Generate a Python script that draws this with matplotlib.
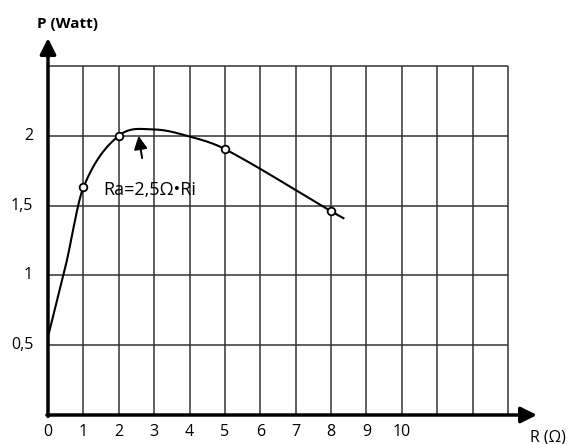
import numpy as np
import matplotlib.pyplot as plt

plt.rcParams['font.family'] = ['Open Sans', 'DejaVu Sans']

# measured points (R in ohm, P in watt)
r_meas = [1, 2, 5, 8]
p_meas = [1.63, 2.0, 1.905, 1.46]

# points
r_curve = [0, 0.5, 1, 2, 3, 4, 5, 8, 8.35]
p_curve = [0.56, 1.07, 1.63, 2.0, 2.045, 1.995, 1.905, 1.46, 1.41]

x_ticks = list(range(0, 11))
y_ticks = [0.5, 1, 1.5, 2]
y_tick_labels = ['0,5', '1', '1,5', '2']

x_grid = list(range(1, 14))
y_grid = [0.5, 1, 1.5, 2, 2.5]


def hermite_curve(xs, ys, n=40):
    # cubic hermite through the points, tangents from neighbouring points
    xs = np.asarray(xs, float)
    ys = np.asarray(ys, float)
    m = np.empty_like(ys)
    m[1:-1] = (ys[2:] - ys[:-2]) / (xs[2:] - xs[:-2])
    m[0] = (ys[1] - ys[0]) / (xs[1] - xs[0])
    m[-1] = (ys[-1] - ys[-2]) / (xs[-1] - xs[-2])
    out_x, out_y = [], []
    for i in range(len(xs) - 1):
        h = xs[i + 1] - xs[i]
        t = np.linspace(0, 1, n)
        h00 = 2 * t**3 - 3 * t**2 + 1
        h10 = t**3 - 2 * t**2 + t
        h01 = -2 * t**3 + 3 * t**2
        h11 = t**3 - t**2
        out_x.append(xs[i] + t * h)
        out_y.append(h00 * ys[i] + h10 * h * m[i] + h01 * ys[i + 1] + h11 * h * m[i + 1])
    return np.concatenate(out_x), np.concatenate(out_y)


fig = plt.figure(figsize=(5.74, 4.44), dpi=100)
x_per_unit = 35.38 / 574
y_per_unit = 139.6 / 444
xmax, ymax = 14.5, 2.85
ax = fig.add_axes([48 / 574, 29 / 444, xmax * x_per_unit, ymax * y_per_unit])
ax.set_xlim(0, xmax)
ax.set_ylim(0, ymax)
ax.axis('off')

# grid
ax.vlines(x_grid, 0, 2.5, color='#333333', lw=1.1)
ax.hlines(y_grid, 0, 13, color='#333333', lw=1.1)

# axes with arrow heads
arrow = dict(arrowstyle='-|>', lw=2.5, color='black', mutation_scale=24, shrinkA=0, shrinkB=0)
ax.annotate('', xy=(13.82, 0), xytext=(-0.03, 0), arrowprops=arrow, annotation_clip=False)
ax.annotate('', xy=(0, 2.70), xytext=(0, -0.01), arrowprops=arrow, annotation_clip=False)

# tick labels
for x in x_ticks:
    ax.text(x, -0.12, str(x), ha='center', va='center', fontsize=11.5, clip_on=False)
for y, lab in zip(y_ticks, y_tick_labels):
    ax.text(-0.42, y, lab, ha='right', va='center', fontsize=11.5, clip_on=False)

ax.text(-0.3, 2.80, 'P (Watt)', ha='left', va='center', fontsize=11,
        fontweight='bold', clip_on=False)
ax.text(13.62, -0.16, 'R (Ω)', ha='left', va='center', fontsize=11.5, clip_on=False)

# power curve
cx, cy = hermite_curve(r_curve, p_curve)
ax.plot(cx, cy, color='black', lw=1.5, zorder=3)
ax.plot(r_meas, p_meas, 'o', ms=5.5, mfc='white', mec='black', mew=1.3, zorder=4)

# maximum marker
ax.annotate('', xy=(2.56, 2.0), xytext=(2.66, 1.84),
            arrowprops=dict(arrowstyle='-|>', lw=1.4, color='black', mutation_scale=20,
                            shrinkA=0, shrinkB=0))
ax.text(1.55, 1.61, 'Ra=2,5Ω•Ri', ha='left', va='center', fontsize=13)

fig.savefig('out.png', dpi=100)
